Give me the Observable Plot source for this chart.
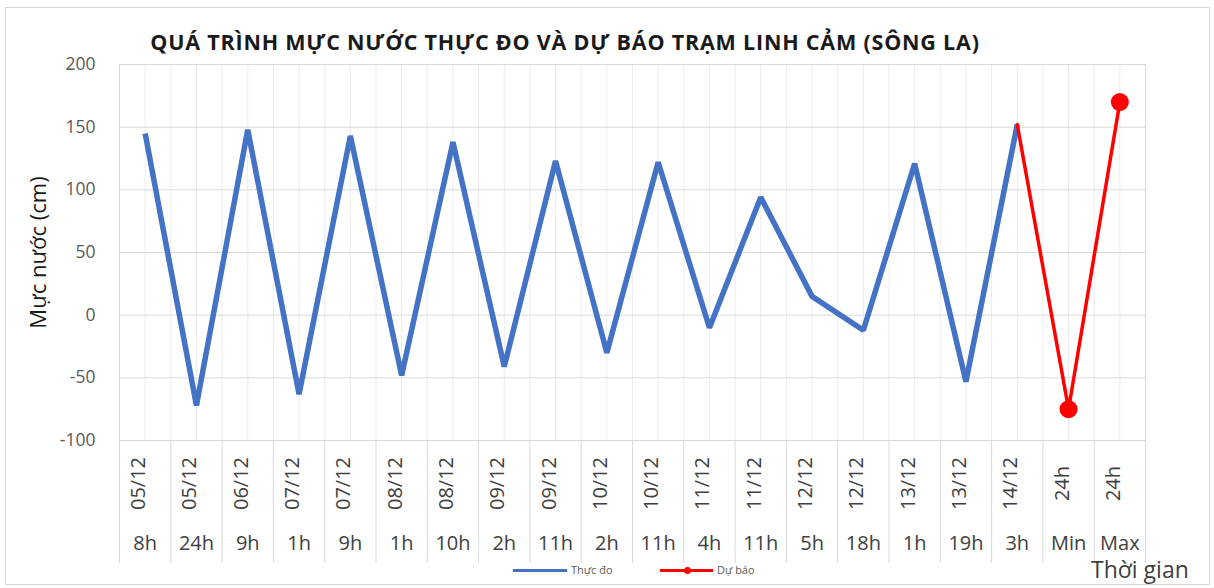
<!DOCTYPE html>
<html>
<head>
<meta charset="utf-8">
<script src="https://cdn.jsdelivr.net/npm/d3@7"></script>
<script src="https://cdn.jsdelivr.net/npm/@observablehq/plot@0.6"></script>
<style>
  html, body { margin: 0; padding: 0; background: #fff; }
  #wrap { position: relative; width: 1214px; height: 588px; overflow: hidden; font-family: "Open Sans", "Noto Sans", sans-serif; }
  #frame { position: absolute; left: 5px; top: 7px; width: 1205px; height: 578px; border: 1px solid #d9d9d9; box-sizing: border-box; pointer-events: none; }
  #title { position: absolute; left: 0; top: 27px; width: 1130px; text-align: center; font-weight: 700; font-size: 21.5px; color: #1a1a1a; letter-spacing: 0.8px; white-space: nowrap; }
  #chart { position: absolute; left: 0; top: 40px; }
  .leg { position: absolute; top: 562px; font-size: 11px; color: #595959; }
  .sw { position: absolute; height: 3px; top: 569px; }
  #xtitle { position: absolute; left: 1091px; top: 553px; font-size: 23px; color: #404040; white-space: nowrap; }
</style>
</head>
<body>
<div id="wrap">
  <div id="frame"></div>
  <div id="title">QUÁ TRÌNH MỰC NƯỚC THỰC ĐO VÀ DỰ BÁO TRẠM LINH CẢM (SÔNG LA)</div>
  <div id="chart"></div>
  <div class="sw" style="left:513px;width:54px;background:#4472C4"></div>
  <div class="leg" style="left:571px">Thực đo</div>
  <div class="sw" style="left:660px;width:53px;background:#FF0000"></div>
  <div style="position:absolute;left:684px;top:567px;width:7px;height:7px;border-radius:50%;background:#FF0000"></div>
  <div class="leg" style="left:717px">Dự báo</div>
  <div id="xtitle">Thời gian</div>
</div>
<script>
// Category labels (row 1 rotated, row 2 horizontal)
const dates = ["05/12","05/12","06/12","07/12","07/12","08/12","08/12","09/12","09/12","10/12","10/12","11/12","11/12","12/12","12/12","13/12","13/12","14/12","24h","24h"];
const hours = ["8h","24h","9h","1h","9h","1h","10h","2h","11h","2h","11h","4h","11h","5h","18h","1h","19h","3h","Min","Max"];
// Observed water level (cm), index 0..17
const observed = [145, -72, 148, -63, 143, -48, 138, -41, 123, -30, 122, -10, 94, 15, -12, 121, -53, 152];
// Forecast: from last observed, then Min and Max (indices 17..19)
const forecastIdx = [17, 18, 19];
const forecast = [152, -75, 170];
const forecastDots = [18, 19];
const yTicks = [-100, -50, 0, 50, 100, 150, 200];

const obsData = observed.map((v, i) => ({i, v}));
const fcData = forecast.map((v, k) => ({i: forecastIdx[k], v}));
const dotData = fcData.filter(d => forecastDots.includes(d.i));
const idx = d3.range(dates.length);
const bounds = d3.range(dates.length + 1).map(k => k - 0.5);
const halves = d3.range(2 * dates.length + 1).map(k => k / 2 - 0.5);

const plot = Plot.plot({
  width: 1214,
  height: 525,
  marginLeft: 119,
  marginRight: 69,
  marginTop: 24,
  marginBottom: 125,
  style: {fontFamily: "'Open Sans', 'Noto Sans', sans-serif", background: "transparent"},
  x: {type: "linear", domain: [-0.5, dates.length - 0.5]},
  y: {domain: [-100, 200]},
  marks: [
    Plot.ruleX(halves, {x: d => d, stroke: "#ececec", strokeWidth: 1}),
    Plot.ruleY(yTicks, {y: d => d, stroke: "#d9d9d9", strokeWidth: 1}),
    Plot.axisY({ticks: yTicks, tickSize: 0, tickPadding: 24, tickFormat: d => String(d), fontSize: 17.5, fill: "#595959", label: null}),
    Plot.axisX({ticks: bounds, tickSize: 123, tickFormat: () => "", stroke: "#d9d9d9", label: null}),
    Plot.ruleX([-0.5, dates.length - 0.5], {x: d => d, stroke: "#d9d9d9"}),
    Plot.text(["Mực nước (cm)"], {frameAnchor: "left", textAnchor: "middle", dx: -81, rotate: -90, fontSize: 22, letterSpacing: 1, fill: "#1a1a1a"}),
    Plot.text(idx, {x: d => d, text: d => dates[d], frameAnchor: "bottom", dy: 43, rotate: -90, fontSize: 20, fill: "#404040"}),
    Plot.text(idx, {x: d => d, text: d => hours[d], frameAnchor: "bottom", dy: 109, fontSize: 20, fill: "#404040"}),
    Plot.line(obsData, {x: "i", y: "v", stroke: "#4472C4", strokeWidth: 5.5, strokeLinejoin: "miter", strokeLinecap: "butt"}),
    Plot.line(fcData, {x: "i", y: "v", stroke: "#FF0000", strokeWidth: 3.5}),
    Plot.dot(dotData, {x: "i", y: "v", r: 9, fill: "#FF0000", stroke: "none"})
  ]
});
document.getElementById("chart").appendChild(plot);
</script>
</body>
</html>
